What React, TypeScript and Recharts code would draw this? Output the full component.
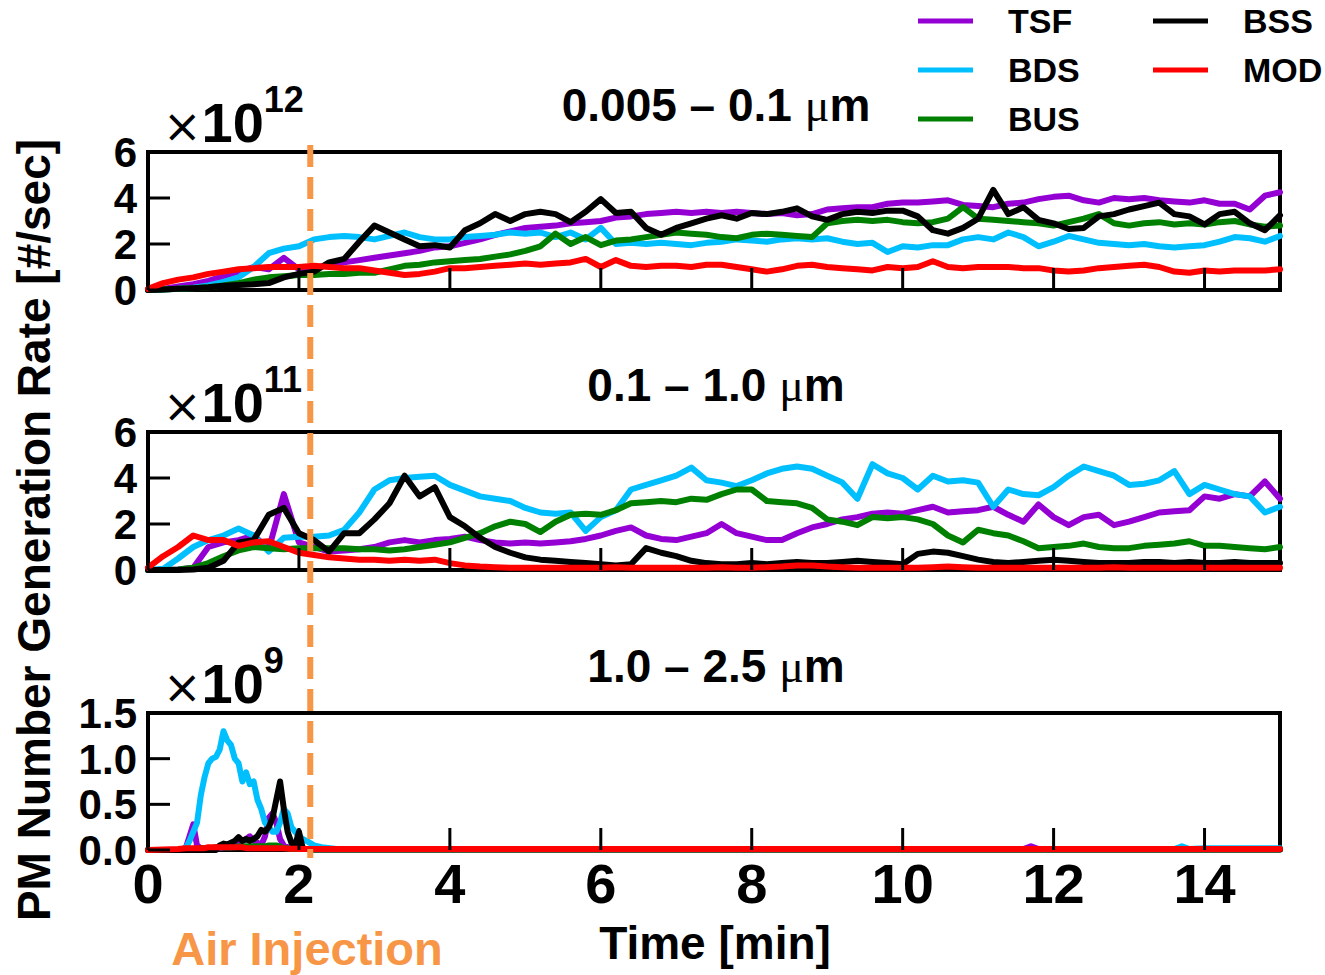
import React from 'react';
import { LineChart, Line, XAxis, YAxis, ReferenceArea, ReferenceLine } from 'recharts';

const FONT = '"Liberation Sans", Arial, Helvetica, sans-serif';
const W = 1325;
const H = 975;

const SERIES = [
  { key: 'TSF', color: '#9400D3' },
  { key: 'BDS', color: '#00BFFF' },
  { key: 'BUS', color: '#008000' },
  { key: 'BSS', color: '#000000' },
  { key: 'MOD', color: '#FF0000' },
];

const X_TICKS = [0, 2, 4, 6, 8, 10, 12, 14];
const AIR_INJECTION_T = 2.15;

// time grid (min) for panels 1 and 2
const T12 = [0,0.2,0.4,0.6,0.8,1,1.2,1.4,1.6,1.8,2,2.2,2.4,2.6,2.8,3,3.2,3.4,3.6,3.8,4,4.2,4.4,4.6,4.8,5,5.2,5.4,5.6,5.8,6,6.2,6.4,6.6,6.8,7,7.2,7.4,7.6,7.8,8,8.2,8.4,8.6,8.8,9,9.2,9.4,9.6,9.8,10,10.2,10.4,10.6,10.8,11,11.2,11.4,11.6,11.8,12,12.2,12.4,12.6,12.8,13,13.2,13.4,13.6,13.8,14,14.2,14.4,14.6,14.8,15];

// Panel 1: 0.005 - 0.1 um (x1e12)
const P1_TSF = [0,0.05,0.15,0.25,0.4,0.6,0.8,1.0,0.9,1.4, 0.9,0.95,1.1,1.2,1.3,1.4,1.5,1.6,1.7,1.85, 1.9,2.05,2.2,2.4,2.55,2.7,2.75,2.8,2.9,2.95, 3.0,3.15,3.2,3.3,3.35,3.4,3.35,3.4,3.35,3.4, 3.35,3.3,3.35,3.25,3.3,3.5,3.55,3.6,3.6,3.75, 3.8,3.8,3.85,3.9,3.7,3.65,3.6,3.75,3.8,3.95, 4.05,4.1,3.9,3.8,4.0,3.95,4.0,3.9,3.85,3.8, 3.9,3.75,3.75,3.5,4.1,4.25];
const P1_BDS = [0,0.02,0.05,0.1,0.2,0.35,0.55,1.0,1.6,1.8, 1.9,2.2,2.3,2.35,2.3,2.2,2.35,2.5,2.3,2.2, 2.2,2.3,2.35,2.4,2.5,2.45,2.5,2.3,2.5,2.2, 2.7,2.0,2.05,2.0,2.05,2.0,1.95,2.05,2.1,2.2, 2.15,2.1,2.2,2.25,2.2,2.25,2.1,2.0,2.05,1.65, 1.9,1.85,1.95,1.95,2.2,2.3,2.2,2.5,2.3,1.9, 2.1,2.35,2.2,2.05,2.0,1.95,2.0,1.9,1.85,1.9, 1.95,2.1,2.3,2.25,2.1,2.35];
const P1_BUS = [0,0.02,0.05,0.08,0.12,0.2,0.3,0.45,0.55,0.6, 0.65,0.65,0.7,0.7,0.75,0.75,0.9,1.05,1.1,1.2, 1.25,1.3,1.35,1.45,1.55,1.7,1.9,2.45,2.0,2.3, 1.95,2.15,2.2,2.3,2.4,2.5,2.45,2.4,2.3,2.25, 2.4,2.45,2.4,2.35,2.3,2.9,3.0,3.05,3.0,3.05, 2.95,2.9,2.95,3.1,3.6,3.1,3.05,3.0,2.95,2.9, 2.8,2.95,3.1,3.3,2.9,2.8,2.9,2.95,2.85,2.9, 2.85,2.95,3.0,2.85,2.75,2.8];
const P1_BSS = [0,0.02,0.05,0.08,0.12,0.18,0.22,0.25,0.3,0.55, 0.7,0.8,1.2,1.35,2.1,2.8,2.5,2.2,1.9,1.95, 1.85,2.6,2.9,3.3,3.0,3.3,3.4,3.3,2.95,3.4, 3.95,3.35,3.4,2.7,2.4,2.7,2.9,3.1,3.25,3.1, 3.35,3.3,3.4,3.55,3.2,3.05,3.3,3.4,3.35,3.45, 3.45,3.2,2.6,2.45,2.7,3.1,4.35,3.3,3.6,3.05, 2.9,2.65,2.7,3.2,3.3,3.5,3.65,3.8,3.3,3.2, 2.85,3.3,3.4,2.9,2.6,3.25];
const P1_MOD = [0.05,0.3,0.45,0.55,0.7,0.8,0.9,0.95,1.0,1.0, 1.0,1.05,1.0,0.95,0.95,0.85,0.75,0.65,0.7,0.8, 0.95,0.95,1.0,1.05,1.1,1.15,1.1,1.15,1.2,1.35, 1.0,1.3,1.05,1.0,1.05,1.05,1.0,1.1,1.1,1.0, 0.9,0.8,0.9,1.05,1.1,1.0,0.95,0.9,0.85,1.0, 0.95,1.0,1.25,1.0,0.95,1.0,1.0,1.0,0.95,0.95, 0.85,0.8,0.85,0.95,1.0,1.05,1.1,1.0,0.8,0.75, 0.85,0.8,0.85,0.85,0.85,0.9];

// Panel 2: 0.1 - 1.0 um (x1e11)
const P2_TSF = [0,0,0.02,0.1,1.0,1.2,1.3,1.5,0.9,3.3, 1.2,1.0,0.8,0.85,0.9,1.0,1.2,1.3,1.2,1.3, 1.35,1.45,1.3,1.2,1.15,1.2,1.15,1.2,1.25,1.35, 1.5,1.7,1.85,1.5,1.35,1.3,1.45,1.6,2.0,1.6, 1.45,1.3,1.3,1.6,1.85,2.0,2.2,2.3,2.45,2.5, 2.45,2.6,2.75,2.5,2.55,2.6,2.75,2.4,2.1,2.85, 2.3,1.95,2.3,2.4,1.95,2.1,2.3,2.5,2.55,2.6, 3.2,3.1,3.3,3.2,3.85,3.1];
const P2_BDS = [0,0.05,0.5,1.0,1.3,1.5,1.8,1.5,0.8,1.4, 1.45,1.45,1.5,1.75,2.5,3.5,3.9,4.0,4.05,4.1, 3.7,3.45,3.2,3.1,3.0,2.7,2.5,2.45,2.5,1.7, 2.3,2.6,3.5,3.7,3.9,4.1,4.45,3.9,3.8,3.65, 3.9,4.2,4.4,4.5,4.4,4.1,3.8,3.1,4.6,4.2, 4.0,3.5,4.1,3.85,3.9,3.8,2.75,3.5,3.3,3.25, 3.6,4.1,4.5,4.3,4.1,3.7,3.75,3.9,4.3,3.3, 3.7,3.5,3.3,3.2,2.5,2.75];
const P2_BUS = [0,0,0.02,0.1,0.3,0.6,0.85,1.0,0.95,0.9, 0.95,0.95,0.95,0.95,0.9,0.9,0.85,0.9,1.0,1.1, 1.2,1.4,1.6,1.9,2.1,2.0,1.65,2.1,2.4,2.45, 2.4,2.6,2.9,2.95,3.0,2.95,3.1,3.05,3.3,3.5, 3.5,3.0,2.95,2.9,2.7,2.2,2.1,1.95,2.3,2.25, 2.3,2.2,2.0,1.5,1.2,1.75,1.6,1.5,1.25,0.95, 1.0,1.05,1.15,1.0,0.95,0.95,1.05,1.1,1.15,1.25, 1.05,1.05,1.0,0.95,0.9,1.0];
const P2_BSS = [0,0,0,0.02,0.1,0.4,1.2,1.3,2.4,2.7, 1.6,1.3,0.8,1.6,1.6,2.2,2.9,4.1,3.2,3.6, 2.3,1.9,1.4,1.0,0.75,0.55,0.45,0.4,0.35,0.3, 0.25,0.2,0.25,0.95,0.75,0.6,0.4,0.3,0.25,0.25, 0.3,0.25,0.3,0.35,0.3,0.3,0.35,0.4,0.35,0.3, 0.25,0.7,0.8,0.75,0.6,0.45,0.35,0.3,0.35,0.4, 0.45,0.4,0.35,0.3,0.3,0.3,0.35,0.35,0.3,0.35, 0.3,0.3,0.35,0.3,0.3,0.3];
const P2_MOD = [0.1,0.6,1.0,1.5,1.3,1.3,1.05,1.2,1.25,1.0, 0.75,0.65,0.55,0.5,0.45,0.45,0.4,0.45,0.4,0.45, 0.3,0.2,0.15,0.12,0.1,0.1,0.1,0.1,0.1,0.1, 0.1,0.12,0.1,0.1,0.1,0.1,0.1,0.1,0.12,0.1, 0.1,0.12,0.15,0.2,0.2,0.15,0.12,0.1,0.1,0.1, 0.1,0.1,0.12,0.15,0.12,0.1,0.1,0.1,0.1,0.1, 0.1,0.1,0.1,0.1,0.12,0.1,0.1,0.1,0.1,0.1, 0.1,0.1,0.1,0.1,0.1,0.1];

// Panel 3: 1.0 - 2.5 um (x1e9), finer time grid early on
const T3 = [0,0.4,0.5,0.55,0.6,0.65,0.7,0.75,0.8,0.85,0.9,0.95,1.0,1.05,1.1,1.15,1.2,1.25,1.3,1.35,1.4,1.45,1.5,1.55,1.6,1.65,1.7,1.75,1.8,1.85,1.9,1.95,2.0,2.05,2.1,2.2,2.3,2.5,3,4,5,6,7,8,9,10,11,11.6,11.7,11.8,12,13,13.6,13.7,13.8,14,15];
const P3_TSF = [0,0,0.02,0.15,0.28,0.05,0.02,0.02,0.02,0.02,0.02,0.02,0.03,0.03,0.03,0.05,0.08,0.1,0.12,0.15,0.1,0.08,0.05,0.15,0.35,0.4,0.3,0.12,0.05,0.03,0.02,0.02,0.02,0.02,0.01,0.01,0.01, 0.01,0.01,0.01,0.01,0.01,0.01,0.01,0.01,0.01,0.01, 0.01,0.04,0.01, 0.01,0.01, 0.01,0.01,0.01, 0.01,0.01];
const P3_BDS = [0,0,0.02,0.1,0.2,0.3,0.6,0.8,0.95,1.0,1.02,1.1,1.3,1.2,1.15,1.0,0.95,0.75,0.85,0.72,0.75,0.55,0.45,0.3,0.25,0.2,0.2,0.3,0.45,0.4,0.25,0.2,0.15,0.12,0.1,0.05,0.03, 0.01,0.01,0.01,0.01,0.01,0.01,0.01,0.01,0.01,0.01, 0.01,0.01,0.01, 0.01,0.01, 0.01,0.04,0.01, 0.02,0.02];
const P3_BUS = [0,0,0.01,0.01,0.01,0.01,0.02,0.02,0.02,0.02,0.03,0.03,0.03,0.03,0.03,0.03,0.04,0.04,0.04,0.04,0.04,0.04,0.04,0.04,0.05,0.05,0.05,0.04,0.02,0.02,0.01,0.01,0.01,0.01,0.01,0.005,0.005, 0.005,0.005,0.005,0.005,0.005,0.005,0.005,0.005,0.005,0.005, 0.005,0.005,0.005, 0.005,0.005, 0.005,0.005,0.005, 0.005,0.005];
const P3_BSS = [0,0,0,0,0,0,0,0,0,0,0,0.05,0.07,0.06,0.08,0.1,0.14,0.1,0.12,0.1,0.12,0.15,0.22,0.2,0.25,0.35,0.55,0.75,0.45,0.2,0.08,0.05,0.2,0.02,0.01,0.005,0.005, 0.005,0.005,0.005,0.005,0.005,0.005,0.005,0.005,0.005,0.005, 0.005,0.005,0.005, 0.005,0.005, 0.005,0.005,0.005, 0.005,0.005];
const P3_MOD = [0,0.01,0.02,0.02,0.02,0.02,0.02,0.02,0.03,0.03,0.03,0.03,0.03,0.03,0.03,0.03,0.03,0.03,0.02,0.02,0.02,0.02,0.02,0.02,0.02,0.02,0.02,0.02,0.02,0.015,0.015,0.015,0.01,0.01,0.01,0.01,0.01, 0.01,0.01,0.01,0.01,0.01,0.01,0.01,0.01,0.01,0.01, 0.01,0.01,0.01, 0.01,0.01, 0.01,0.01,0.01, 0.01,0.01];

function rows(t: number[], s: Record<string, number[]>) {
  return t.map((tv, i) => {
    const r: Record<string, number> = { t: tv };
    Object.keys(s).forEach((k) => { r[k] = s[k][i]; });
    return r;
  });
}

const DATA1 = rows(T12, { TSF: P1_TSF, BDS: P1_BDS, BUS: P1_BUS, BSS: P1_BSS, MOD: P1_MOD });
const DATA2 = rows(T12, { TSF: P2_TSF, BDS: P2_BDS, BUS: P2_BUS, BSS: P2_BSS, MOD: P2_MOD });
const DATA3 = rows(T3, { TSF: P3_TSF, BDS: P3_BDS, BUS: P3_BUS, BSS: P3_BSS, MOD: P3_MOD });

const PANELS = [
  { data: DATA1, yMax: 6, yTicks: [0, 2, 4, 6], top: 152, bottom: 290, fmt: (v: number) => String(v), title: '0.005 – 0.1 ', exp: '12', xLabels: false },
  { data: DATA2, yMax: 6, yTicks: [0, 2, 4, 6], top: 432, bottom: 570, fmt: (v: number) => String(v), title: '0.1 – 1.0 ', exp: '11', xLabels: false },
  { data: DATA3, yMax: 1.5, yTicks: [0, 0.5, 1, 1.5], top: 713, bottom: 850, fmt: (v: number) => v.toFixed(1), title: '1.0 – 2.5 ', exp: '9', xLabels: true },
];

const LINE_W = 6;

const XTick = (props: any) => {
  const { x, y, payload, showLabel } = props;
  return (
    <g>
      <line x1={x} x2={x} y1={y} y2={y - 22} stroke="#000" strokeWidth={3} />
      {showLabel && (
        <text x={x} y={y + 53} textAnchor="middle" fontSize={56} fontWeight="bold" fontFamily={FONT} fill="#000">
          {payload.value}
        </text>
      )}
    </g>
  );
};

const YTick = (props: any) => {
  const { x, y, payload, fmt } = props;
  return (
    <g>
      <line x1={x} x2={x + 22} y1={y} y2={y} stroke="#000" strokeWidth={3} />
      <text x={x - 11} y={y + 15} textAnchor="end" fontSize={42} fontWeight="bold" fontFamily={FONT} fill="#000">
        {fmt(payload.value)}
      </text>
    </g>
  );
};

function Panel({ p, last }: { p: typeof PANELS[number]; last: boolean }) {
  const pxPerUnit = (p.bottom - p.top) / p.yMax;
  const dashTop = (p.bottom - 145) / pxPerUnit;
  const dashBottom = (p.bottom - 858) / pxPerUnit;
  return (
    <div style={{ position: 'absolute', left: 0, top: 0 }}>
      <LineChart width={W} height={H} data={p.data} margin={{ top: p.top, right: 45, bottom: H - p.bottom - 30, left: 0 }}>
        <XAxis
          dataKey="t"
          type="number"
          domain={[0, 15]}
          ticks={X_TICKS}
          interval={0}
          axisLine={false}
          tickLine={false}
          tickSize={0}
          tickMargin={0}
          height={30}
          tick={(tp: any) => <XTick {...tp} showLabel={p.xLabels} />}
        />
        <YAxis
          type="number"
          domain={[0, p.yMax]}
          ticks={p.yTicks}
          interval={0}
          axisLine={false}
          tickLine={false}
          tickSize={0}
          tickMargin={0}
          width={148}
          tick={(tp: any) => <YTick {...tp} fmt={p.fmt} />}
        />
        {SERIES.map((s) => (
          <Line
            key={s.key}
            dataKey={s.key}
            type="linear"
            stroke={s.color}
            strokeWidth={LINE_W}
            strokeLinejoin="round"
            strokeLinecap="round"
            dot={false}
            activeDot={false}
            isAnimationActive={false}
          />
        ))}
        <ReferenceArea x1={0} x2={15} y1={0} y2={p.yMax} fill="none" fillOpacity={0} stroke="#000" strokeWidth={4} ifOverflow="visible" />
        {last && (
          <ReferenceLine
            segment={[{ x: AIR_INJECTION_T, y: dashTop }, { x: AIR_INJECTION_T, y: dashBottom }]}
            stroke="#F79646"
            strokeWidth={6}
            strokeDasharray="22 10"
            ifOverflow="visible"
          />
        )}
      </LineChart>
    </div>
  );
}

export default function App() {
  return (
    <div style={{ position: 'absolute', left: 0, top: 0, width: W, height: H, background: '#fff', overflow: 'hidden' }}>
      {PANELS.map((p, i) => (
        <Panel key={i} p={p} last={i === PANELS.length - 1} />
      ))}
      <svg width={W} height={H} style={{ position: 'absolute', left: 0, top: 0, pointerEvents: 'none' }}>
        {PANELS.map((p, i) => (
          <g key={i}>
            <text x={716} y={p.top - 31} textAnchor="middle" fontSize={46} fontWeight="bold" fontFamily={FONT} fill="#000">
              {p.title}
              <tspan fontFamily='"Liberation Serif", "DejaVu Serif", serif' fontWeight="normal">μ</tspan>
              <tspan>m</tspan>
            </text>
            <text x={163} y={p.top - 10} fontFamily={FONT} fill="#000">
              <tspan fontFamily='"DejaVu Sans", sans-serif' fontWeight="normal" fontSize={46}>×</tspan>
              <tspan fontSize={56} fontWeight="bold">10</tspan>
              <tspan fontSize={36} fontWeight="bold" dy={-30}>{p.exp}</tspan>
            </text>
          </g>
        ))}
        <text x={50} y={530} transform="rotate(-90 50 530)" textAnchor="middle" fontSize={46} fontWeight="bold" fontFamily={FONT} fill="#000">
          PM Number Generation Rate [#/sec]
        </text>
        <text x={715} y={959} textAnchor="middle" fontSize={46} fontWeight="bold" fontFamily={FONT} fill="#000">
          Time [min]
        </text>
        <text x={307} y={965} textAnchor="middle" fontSize={47} fontWeight="bold" fontFamily={FONT} fill="#F79646">
          Air Injection
        </text>
        {SERIES.map((s, i) => {
          const col = i < 3 ? 0 : 1;
          const row = i % 3;
          const lx = col === 0 ? 918 : 1153;
          const tx = col === 0 ? 1008 : 1243;
          const ly = 21 + row * 49;
          return (
            <g key={s.key}>
              <line x1={lx} x2={lx + 55} y1={ly} y2={ly} stroke={s.color} strokeWidth={5} />
              <text x={tx} y={ly + 12} fontSize={34} fontWeight="bold" fontFamily={FONT} fill="#000">
                {s.key}
              </text>
            </g>
          );
        })}
      </svg>
    </div>
  );
}
